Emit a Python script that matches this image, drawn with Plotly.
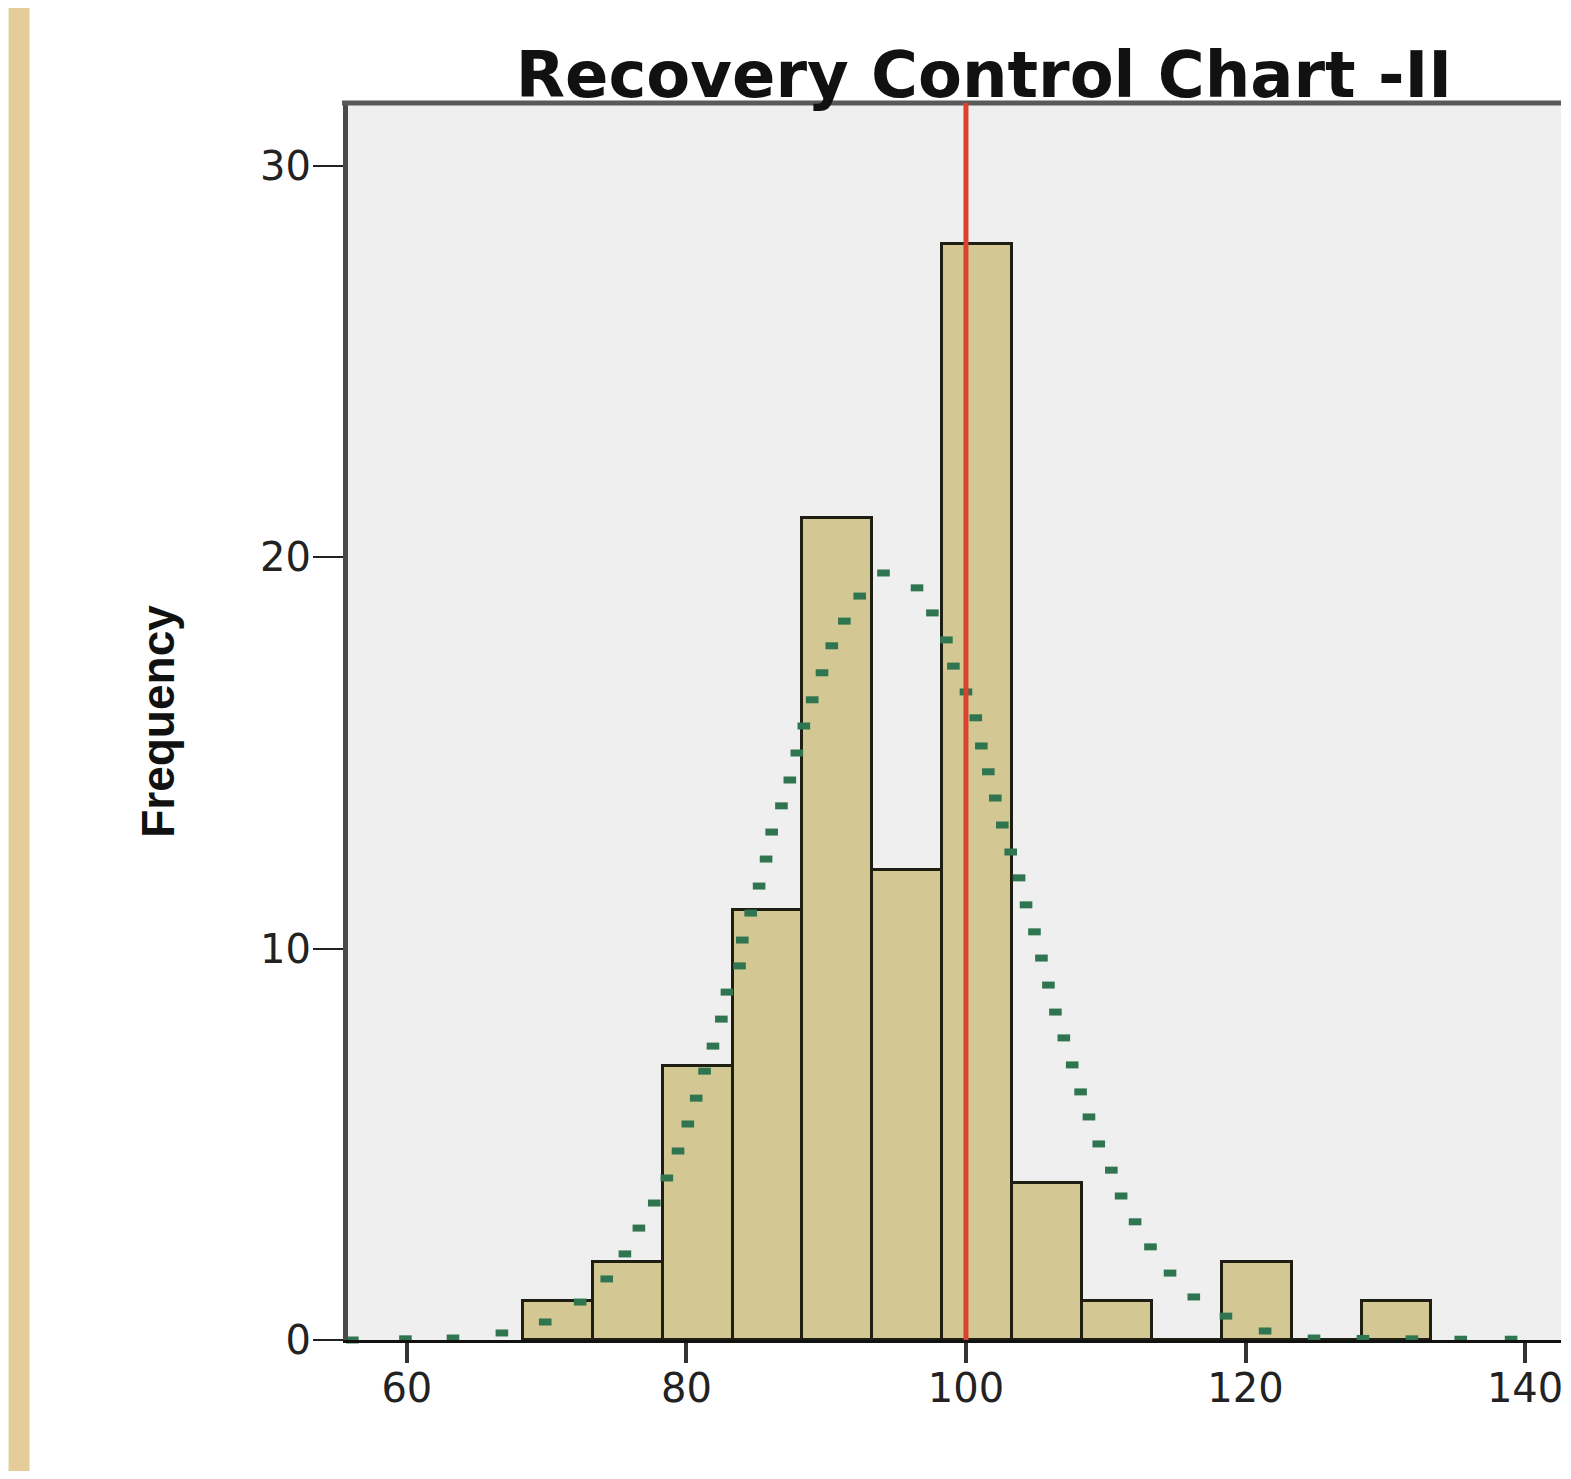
import plotly.graph_objects as go

# ---------------- data ----------------
bin_centers = [70.8, 75.8, 80.8, 85.8, 90.8, 95.8, 100.8, 105.8, 110.8, 115.8, 120.8, 125.8, 130.8]
bin_counts = [1, 2, 7, 11, 21, 12, 28, 4, 1, 0, 2, 0, 1]
bin_width = 5.0

# dotted normal-curve dots (x value, frequency)
curve_x = [56.1, 59.9, 63.3, 66.8, 69.9, 72.4, 74.3, 75.6, 76.6, 77.7, 78.6, 79.4, 80.1,
           80.7, 81.3, 81.9, 82.5, 82.9, 83.8, 84.0, 84.6, 85.2, 85.7, 86.1, 86.8, 87.4,
           87.9, 88.4, 89.0, 89.7, 90.4, 91.3, 92.4, 94.1, 96.5, 97.6, 98.6, 99.1, 100.0,
           100.7, 101.1, 101.6, 102.1, 102.6, 103.2, 103.8, 104.3, 104.9, 105.4, 105.9,
           106.4, 107.0, 107.6, 108.2, 108.8, 109.5, 110.4, 111.1, 112.1, 113.2, 114.6,
           116.3, 118.6, 121.4, 124.9, 128.4, 131.9, 135.4, 139.0, 142.6]
curve_y = [0.0, 0.03, 0.05, 0.18, 0.46, 0.97, 1.56, 2.20, 2.86, 3.50, 4.14, 4.83, 5.52,
           6.18, 6.87, 7.51, 8.20, 8.89, 9.56, 10.22, 10.91, 11.60, 12.29, 12.98, 13.65, 14.31,
           15.00, 15.69, 16.36, 17.05, 17.74, 18.37, 19.01, 19.60, 19.22, 18.58, 17.89, 17.22, 16.56,
           15.90, 15.18, 14.52, 13.85, 13.16, 12.47, 11.81, 11.12, 10.43, 9.76, 9.07,
           8.38, 7.72, 7.03, 6.34, 5.70, 5.01, 4.34, 3.68, 3.02, 2.38, 1.71,
           1.10, 0.61, 0.23, 0.05, 0.04, 0.03, 0.02, 0.02, 0.02]

reference_value = 100

x_ticks = [60, 80, 100, 120, 140]
y_ticks = [0, 10, 20, 30]
x_range = [55.79, 142.57]
y_range = [0, 31.61]

title_text = "Recovery Control Chart -II"
y_title = "Frequency"

# ---------------- figure ----------------
# page body has an 8px margin; figure kept small enough to avoid scrollbars
W, H = 1555, 1463
ML, MR, MT, MB = 340, 0, 95, 131

fig = go.Figure()

fig.add_trace(go.Bar(
    x=bin_centers, y=bin_counts, width=bin_width,
    marker=dict(color="#d3c794", line=dict(color="#1f1e12", width=3)),
    showlegend=False, hoverinfo="x+y",
))

fig.add_trace(go.Scatter(
    x=curve_x, y=curve_y, mode="markers",
    marker=dict(symbol="line-ew", size=9, color="#2f7550",
                line=dict(color="#2f7550", width=7)),
    showlegend=False, cliponaxis=False,
))

plot_w = W - ML - MR
plot_h = H - MT - MB

shapes = [
    # left decorative strip
    dict(type="rect", xref="paper", yref="paper",
         x0=(0 - ML) / plot_w, x1=(21 - ML) / plot_w,
         y0=-(MB) / plot_h, y1=(H - MB) / plot_h,
         fillcolor="#e4cd98", line=dict(width=0), layer="below"),
    # top frame line
    dict(type="line", xref="paper", yref="paper", x0=-6 / plot_w, x1=1, y0=1, y1=1,
         line=dict(color="#5a5a5a", width=5), layer="above"),
    # reference line
    dict(type="line", xref="x", yref="paper", x0=reference_value, x1=reference_value,
         y0=0, y1=1, line=dict(color="#d9432e", width=5), layer="above"),
]

fig.update_layout(
    width=W, height=H,
    margin=dict(l=ML, r=MR, t=MT, b=MB, pad=0),
    paper_bgcolor="white",
    plot_bgcolor="#efefef",
    bargap=0,
    shapes=shapes,
    title=dict(text=title_text, x=(977 - ML) / plot_w, xref="paper", xanchor="center",
               y=1 - 67 / H, yref="container", yanchor="middle",
               font=dict(family="DejaVu Sans", size=64, color="#111", weight="bold")),
    xaxis=dict(range=x_range, tickvals=x_ticks, ticks="outside", ticklen=20, tickwidth=4,
               tickcolor="#333", showline=True, linecolor="#111", linewidth=3,
               showgrid=False, zeroline=False, ticklabeloverflow="allow",
               ticklabelstandoff=-9,
               tickfont=dict(family="DejaVu Sans", size=40, color="#222")),
    yaxis=dict(range=y_range, tickvals=y_ticks, ticks="outside", ticklen=30, tickwidth=2,
               tickcolor="#222", showline=True, linecolor="#4a4a4a", linewidth=5,
               showgrid=False, zeroline=False, ticklabelstandoff=-6,
               tickfont=dict(family="DejaVu Sans", size=40, color="#222"),
               title=dict(text=y_title, standoff=72,
                          font=dict(family="Liberation Sans", size=46, color="#111", weight="bold"))),
)

fig.write_html("out.html")
